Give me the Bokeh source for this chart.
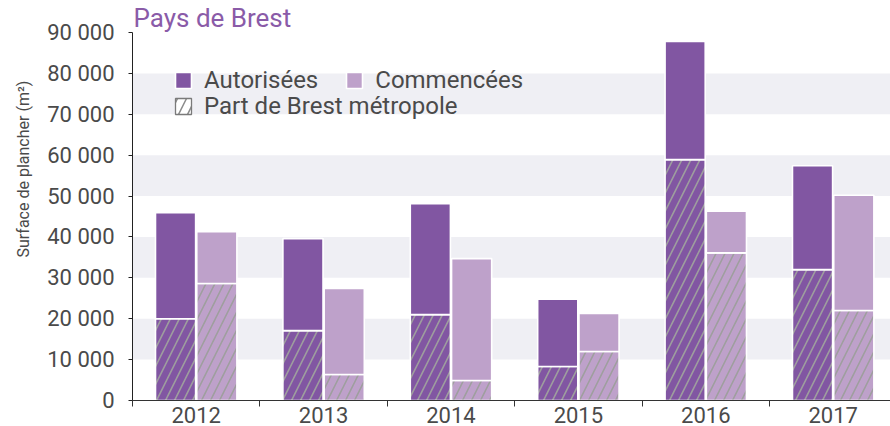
from bokeh.plotting import figure
from bokeh.models import (Range1d, FixedTicker, Legend, LegendItem, Title,
                          ColumnDataSource)
from bokeh.embed import file_html
from bokeh.resources import INLINE

years = ["2012", "2013", "2014", "2015", "2016", "2017"]
autorisees = [45900, 39600, 48100, 24800, 87800, 57400]
autorisees_brest = [20000, 17100, 21000, 8300, 58900, 32000]
commencees = [41300, 27400, 34700, 21300, 46300, 50200]
commencees_brest = [28600, 6350, 4900, 12000, 36100, 22000]
y_ticks = [0, 10000, 20000, 30000, 40000, 50000, 60000, 70000, 80000, 90000]

title_text = "Pays de Brest"
y_label = "Surface de plancher (m²)"
lbl_aut = "Autorisées"
lbl_com = "Commencées"
lbl_part = "Part de Brest métropole"

C_AUT = "#8156a2"
C_COM = "#bea1ca"
C_HATCH = "#9e9e9e"
C_TEXT = "#4a4a4a"
C_TITLE = "#8a5ba8"
FONT = "Roboto"

n = len(years)
centers = [i + 0.5 for i in range(n)]
bounds = list(range(n + 1))
off = 0.162
bw = 0.315

p = figure(width=890, height=426, output_backend="svg", toolbar_location=None,
           x_range=Range1d(0, 5.95), y_range=Range1d(0, 90000),
           min_border_left=132, min_border_right=0, min_border_top=31,
           min_border_bottom=26)
p.outline_line_color = None
p.background_fill_color = "white"

# alternating grid bands (0-10 000 band filled)
step = y_ticks[1] - y_ticks[0]
p.xgrid.grid_line_color = None
p.ygrid.grid_line_color = None
p.ygrid.ticker = FixedTicker(ticks=[y_ticks[0] - step] + y_ticks)
p.ygrid.band_fill_color = "#efeff4"
p.ygrid.band_fill_alpha = 1.0

# bars
src = ColumnDataSource(dict(
    xa=[c - off for c in centers], xc=[c + off for c in centers],
    aut=autorisees, autb=autorisees_brest, com=commencees, comb=commencees_brest,
    zero=[0] * n))

common = dict(width=bw, line_color="white", line_width=1.6, source=src)
hatch = dict(hatch_pattern="/", hatch_color=C_HATCH, hatch_scale=18, hatch_weight=1.6)
r_ab = p.vbar(x="xa", bottom="zero", top="autb", fill_color=C_AUT, **hatch, **common)
r_a = p.vbar(x="xa", bottom="autb", top="aut", fill_color=C_AUT, **common)
r_cb = p.vbar(x="xc", bottom="zero", top="comb", fill_color=C_COM, **hatch, **common)
r_c = p.vbar(x="xc", bottom="comb", top="com", fill_color=C_COM, **common)

# legend proxy for the hatched part (zero-size bars, nothing drawn on the chart)
r_part = p.vbar(x="xa", bottom="zero", top="zero", width=0, source=src,
                fill_color="white", line_color="#7a7a7a", line_width=1.3,
                hatch_pattern="/", hatch_color="#8a8a8a", hatch_scale=18,
                hatch_weight=1.5)

# title
p.title = Title(text=title_text, align="left", offset=1, standoff=0,
                text_font=FONT, text_font_size="26px", text_color=C_TITLE,
                text_font_style="normal")

# y axis
yax = p.yaxis[0]
yax.ticker = FixedTicker(ticks=y_ticks)
yax.major_label_overrides = {v: f"{v:,}".replace(",", " ") for v in y_ticks}
yax.major_label_text_font = FONT
yax.major_label_text_font_size = "22px"
yax.major_label_text_color = C_TEXT
yax.major_tick_in = 0
yax.major_tick_out = 4
yax.minor_tick_line_color = None
yax.major_label_standoff = 14
yax.axis_line_color = "#222222"
yax.major_tick_line_color = "#222222"

p.add_layout(Title(text=y_label, align="left", offset=143, standoff=23,
                   text_font=FONT, text_font_size="16px", text_color=C_TEXT,
                   text_font_style="normal"), "left")

# x axis: labels at category centres, ticks at category boundaries
xax = p.xaxis[0]
xax.ticker = FixedTicker(ticks=centers, minor_ticks=bounds)
xax.major_label_overrides = {c: y for c, y in zip(centers, years)}
xax.major_label_text_font = FONT
xax.major_label_text_font_size = "22px"
xax.major_label_text_color = C_TEXT
xax.major_label_standoff = 0
xax.major_tick_in = 0
xax.major_tick_out = 0
xax.minor_tick_in = 0
xax.minor_tick_out = 6
xax.axis_line_color = "#333333"
xax.minor_tick_line_color = "#333333"

# legends
leg_common = dict(border_line_color=None, background_fill_alpha=0, padding=0,
                  margin=0, glyph_width=20, glyph_height=20, label_standoff=11,
                  label_text_font=FONT, label_text_font_size="24px",
                  label_text_color=C_TEXT, label_height=20)
leg1 = Legend(items=[LegendItem(label=lbl_aut, renderers=[r_a]),
                     LegendItem(label=lbl_com, renderers=[r_c])],
              orientation="horizontal", spacing=26, location=(41, 306), **leg_common)
leg2 = Legend(items=[LegendItem(label=lbl_part, renderers=[r_part])],
              location=(41, 280), **leg_common)
p.add_layout(leg1, "center")
p.add_layout(leg2, "center")

open("out.html", "w").write(file_html(p, INLINE))
